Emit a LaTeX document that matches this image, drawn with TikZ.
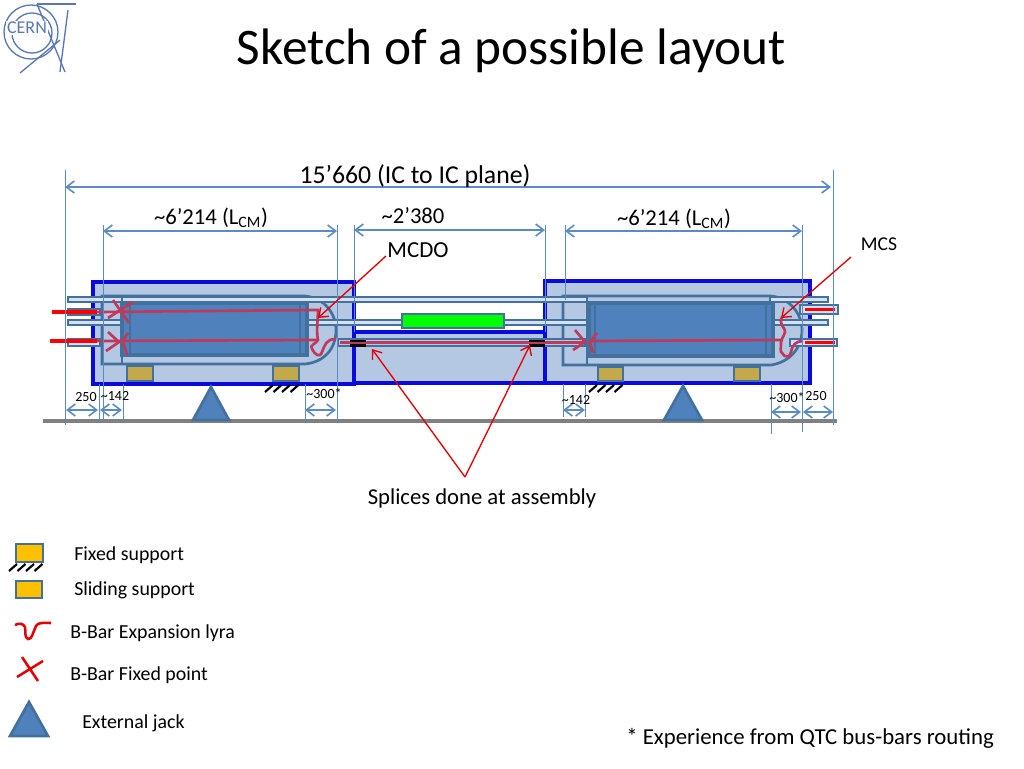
\documentclass[tikz,border=0pt]{standalone}
\usepackage{fontspec}
\setmainfont{Carlito}
\usetikzlibrary{arrows.meta}
\definecolor{framecol}{HTML}{0A0ADC}
\definecolor{modfill}{HTML}{B4C7E3}
\definecolor{steelcol}{HTML}{41719C}
\definecolor{blockcol}{HTML}{4F81BD}
\definecolor{dimcol}{HTML}{5B8BC4}
\definecolor{barcol}{HTML}{C0395A}
\definecolor{goldcol}{HTML}{C4A94A}
\definecolor{cerncol}{HTML}{5A78B4}
\definecolor{legcol}{HTML}{FFC000}
\tikzset{
  module/.style={draw=framecol, fill=modfill, line width=2.4pt},
  pipe/.style={draw=steelcol, fill=modfill!55, line width=1.5pt},
  cryo/.style={draw=steelcol, fill=modfill, line width=2pt},
  block/.style={draw=steelcol, fill=blockcol, line width=2.4pt},
  support/.style={draw=steelcol, fill=goldcol, line width=2pt},
  legsupport/.style={draw=steelcol, fill=legcol, line width=2pt},
  jack/.style={draw=steelcol, fill=blockcol, line width=2pt},
  hatch/.style={black, line width=1.6pt},
  refline/.style={dimcol, line width=.7pt},
  dim/.style={dimcol, line width=1.2pt, <->},
  bbar/.style={barcol, line width=2pt},
  feed/.style={red, line width=2.6pt},
  leader/.style={red!90!black, line width=1pt, ->},
  lbl/.style={font=\fontsize{19.3}{19.3}\selectfont, inner sep=0pt},
  legtxt/.style={font=\fontsize{14.9}{14.9}\selectfont, inner sep=0pt, anchor=west},
  tiny/.style={font=\fontsize{10.5}{10.5}\selectfont, inner sep=0pt},
}
\begin{document}
\begin{tikzpicture}[>={Straight Barb[length=6pt,width=9pt]}, x=0.75pt, y=-0.75pt]
\useasboundingbox (0,0) rectangle (1024,768);
% logo
\begin{scope}[cerncol, line width=1pt]
\draw (31,32) circle (27);
\draw (32,33) circle (20);
\draw (37,4) -- (76,4);
\draw (37,4) -- (65,72);
\draw (68,10) -- (60,72);
\draw (60,40) -- (20,73);
\node[inner sep=1pt, text=cerncol, fill=white, font=\fontsize{13.5}{13.5}\selectfont] (cern) at (27,28) {CERN};
\end{scope}
\node[inner sep=0pt, font=\fontsize{38.5}{38.5}\selectfont] (title) at (511.5,51) {Sketch of a possible layout};
% modules
\draw[module] (93,282) rectangle (354,384);
\draw[module] (354,332) rectangle (545,383);
\draw[module] (545,281) rectangle (810,383);
% cryostats
\draw[cryo] (102,296) -- (305,296) .. controls (325,298) and (336,314) .. (336,330) .. controls (336,348) and (325,362) .. (305,364) -- (102,364) -- cycle;
\draw[cryo] (563,296) -- (771,296) .. controls (790,298) and (802,314) .. (802,330) .. controls (802,348) and (790,362) .. (771,365) -- (563,365) -- cycle;
% pipes
\draw[pipe] (68,297) rectangle (587,302);
\draw[pipe] (68,320) rectangle (402,325);
\draw[pipe] (504,320) rectangle (587,325);
\draw[pipe] (770,297) rectangle (828,302);
\draw[pipe] (770,320) rectangle (828,325);
\draw[pipe] (68,309) rectangle (100,315);
\draw[pipe] (68,339) rectangle (100,346);
\draw[pipe] (800,305) rectangle (838,314);
\draw[pipe] (790,339) rectangle (837,346);
\draw[pipe, fill=modfill] (338,339) rectangle (585,346);
\draw[draw=steelcol, fill=green, line width=2pt] (402,314) rectangle (504,328);
% blocks
\draw[steelcol, line width=2pt] (122,296) -- (122,364);
\draw[block] (122,303) rectangle (307,355);
\draw[steelcol, line width=2pt] (130,303) -- (130,355);
\draw[steelcol, line width=2pt] (300,303) -- (300,355);
\draw[steelcol, line width=2pt] (587,296) -- (587,365);
\draw[block] (589,303) rectangle (773,356);
\draw[steelcol, line width=2pt] (595,303) -- (595,356);
\draw[steelcol, line width=2pt] (766,303) -- (766,356);
% supports
\draw[support] (127,366) rectangle (153,381);
\draw[support] (273,366) rectangle (299,381);
\draw[support] (598,367) rectangle (623,381);
\draw[support] (734,367) rectangle (760,381);
\foreach \x in {265,273.5,282,290.5} \draw[hatch] (\x,392) -- (\x+8,385);
\foreach \x in {589,597.5,606,614.5} \draw[hatch] (\x,392) -- (\x+8,385);
% jacks and floor
\draw[gray, line width=3pt] (43,421) -- (837,421);
\draw[jack] (211,387) -- (229,420) -- (193,420) -- cycle;
\draw[jack] (683,386) -- (702,420) -- (664,420) -- cycle;
% bus-bars
\draw[feed] (52,312) -- (97,312);
\draw[feed] (50,341) -- (97,341);
\draw[feed] (805,309.5) -- (835,309.5);
\draw[feed] (805,342.5) -- (835,342.5);
\draw[bbar] (97,312) -- (318,310) .. controls (318,320) and (316,330) .. (318,340) .. controls (316,344) and (309,345) .. (312,349) .. controls (315,355) and (320,358) .. (322,352) .. controls (325,345) and (326,339) .. (336,339);
\draw[bbar] (97,341) -- (318,340);
\draw[bbar] (340,342.5) -- (583,342.5);
\draw[bbar] (590,341) -- (782,340);
\draw[bbar] (782,317) .. controls (778,325) and (786,328) .. (785,332) .. controls (784,337) and (781,338) .. (781,342) .. controls (781,348) and (780,352) .. (782,353) .. controls (785,358) and (790,358) .. (791,352) .. controls (792,345) and (796,341) .. (803,341);
% fixed points
\draw[bbar] (113,300) -- (129,323) (108,318) -- (133,302);
\draw[bbar] (108,332) -- (119,342) -- (106,351) (128,333) -- (123,341) -- (127,355);
\draw[bbar] (575,330) -- (585,342) -- (573,350) (597,333) -- (590,342) -- (593,353);
% splices
\foreach \x in {350,529} {
  \fill (\x,339.5) rectangle (\x+16,342);
  \fill (\x,344) rectangle (\x+16,346.5);
}
% reference lines
\foreach \x/\a/\b in {65/170/425,833/170/425,103/225/421,337/225/421,354/225/332,545/225/332,565/225/300,802/225/432,99/384/421,123/384/421,305/384/421,563/384/417,585/384/417,771/384/434} \draw[refline] (\x,\a) -- (\x,\b);
% dimensions
\coordinate (allL) at (65,187);
\coordinate (allR) at (831,187);
\coordinate (cmaL) at (103,231);
\coordinate (cmaR) at (337,231);
\coordinate (midL) at (354,230);
\coordinate (midR) at (545,230);
\coordinate (cmbL) at (565,231);
\coordinate (cmbR) at (802,231);
\draw[dim] (allL) -- (allR);
\draw[dim] (cmaL) -- (cmaR);
\draw[dim] (midL) -- (midR);
\draw[dim] (cmbL) -- (cmbR);
\node[lbl] (alllbl) at (415,176) {15’660 (IC to IC plane)};
\node[lbl, font=\fontsize{17}{17}\selectfont] (cmalbl) at (211,218) {\textasciitilde6’214 (L\textsubscript{CM})};
\node[lbl, font=\fontsize{17}{17}\selectfont] (midlbl) at (413,216) {\textasciitilde2’380};
\node[lbl, font=\fontsize{17}{17}\selectfont] (cmblbl) at (674,219) {\textasciitilde6’214 (L\textsubscript{CM})};
\coordinate (aL) at (66,410);
\coordinate (aR) at (98,410);
\coordinate (bL) at (100,410);
\coordinate (bR) at (122,410);
\coordinate (cL) at (305,410);
\coordinate (cR) at (336,410);
\coordinate (dL) at (563,410);
\coordinate (dR) at (585,410);
\coordinate (eL) at (771,412);
\coordinate (eR) at (801,412);
\coordinate (fL) at (803,412);
\coordinate (fR) at (833,412);
\foreach \p/\q in {aL/aR,bL/bR,cL/cR,dL/dR,eL/eR,fL/fR} \draw[dim] (\p) -- (\q);
\node[tiny] (d250a) at (86,397) {250};
\node[tiny] (d142a) at (115,396) {\textasciitilde142};
\node[tiny] (d300a) at (324,394) {\textasciitilde300*};
\node[tiny] (d142b) at (576,400) {\textasciitilde142};
\node[tiny] (d300b) at (787,398) {\textasciitilde300*};
\node[tiny] (d250b) at (816,396) {250};
% leaders
\node[lbl, font=\fontsize{17.2}{17.2}\selectfont] (mcdo) at (418,250) {MCDO};
\node[lbl, font=\fontsize{14.7}{14.7}\selectfont] (mcs) at (879,244) {MCS};
\node[lbl, font=\fontsize{17}{17}\selectfont] (splices) at (482,498) {Splices done at assembly};
\coordinate (mcdoA) at (386,256);
\coordinate (mcdoB) at (318,318);
\coordinate (mcsA) at (851,257);
\coordinate (mcsB) at (781,318);
\coordinate (spl) at (465,477);
\coordinate (splL) at (372,349);
\coordinate (splR) at (530,345);
\draw[leader] (mcdoA) -- (mcdoB);
\draw[leader] (mcsA) -- (mcsB);
\draw[leader] (spl) -- (splL);
\draw[leader] (spl) -- (splR);
% legend
\draw[legsupport] (16,544) rectangle (43,562);
\foreach \x in {9,17.5,26,34.5} \draw[hatch] (\x,571) -- (\x+8,564);
\draw[legsupport] (16,581) rectangle (42,598);
\draw[red!90!black, line width=1.9pt] (15,625) .. controls (19,623) and (23,623) .. (25,627) .. controls (26,632) and (24,637) .. (28,639) .. controls (32,640) and (33,632) .. (36,626) .. controls (38,622) and (44,623) .. (51,623);
\draw[red!90!black, line width=1.9pt] (17,677) -- (43,661) (22,657) -- (38,681);
\draw[jack] (29,702) -- (48,736) -- (10,736) -- cycle;
\node[legtxt] (lfix) at (74,555) {Fixed support};
\node[legtxt] (lslide) at (74,590) {Sliding support};
\node[legtxt] (llyra) at (70,633) {B-Bar Expansion lyra};
\node[legtxt] (lpoint) at (70,675) {B-Bar Fixed point};
\node[legtxt] (ljack) at (82,723) {External jack};
\node[legtxt, font=\fontsize{17.1}{17.1}\selectfont] (note) at (626,738) {* Experience from QTC bus-bars routing};
\end{tikzpicture}
\end{document}
